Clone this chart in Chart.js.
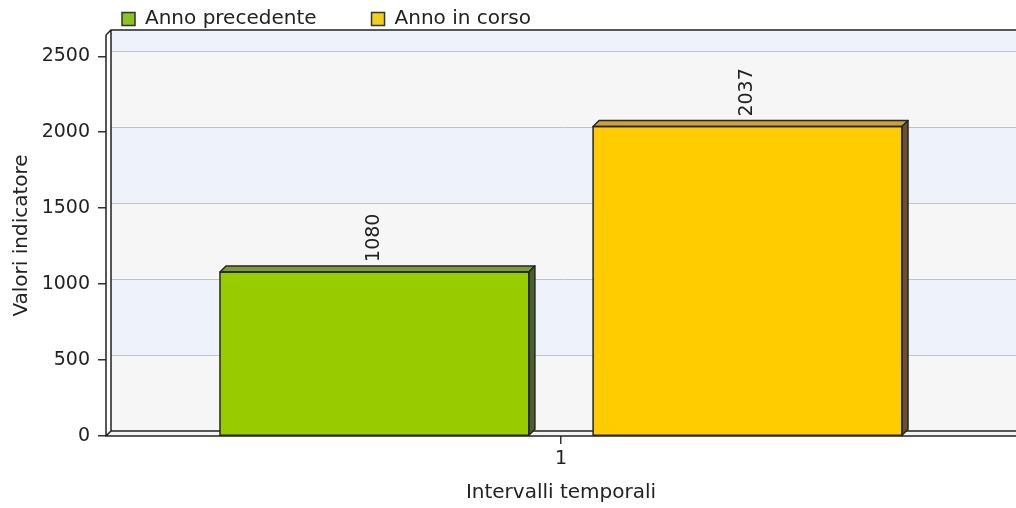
<!DOCTYPE html>
<html>
<head>
<meta charset="utf-8">
<script src="https://cdn.jsdelivr.net/npm/chart.js@4"></script>
<style>
  html, body { margin: 0; padding: 0; background: #fff; }
  #wrap { width: 1016px; height: 508px; }
</style>
</head>
<body>
<div id="wrap"><canvas id="bar-chart" width="1016" height="508"></canvas></div>
<script>
// dati del grafico
var categories = ["1"];
var seriesNames = ["Anno precedente", "Anno in corso"];
var annoPrecedente = [1080];
var annoInCorso = [2037];
var yTickValues = [0, 500, 1000, 1500, 2000, 2500];
var yMax = 2640;

var FONT = "DejaVu Sans";
var DEPTH = 5;   // profondita della parete di fondo
var BAR_DEPTH = 6;

var faceColors = ["#99cc00", "#ffcc00"];
var topColors = ["#7d9c3c", "#c9a238"];
var sideColors = ["#4e5f2e", "#6a5030"];

// parete di fondo con bande alternate e griglia spostata
var wallPlugin = {
  id: "wall",
  beforeDatasetsDraw: function (chart) {
    var ctx = chart.ctx;
    var a = chart.chartArea;
    var y = chart.scales.y;
    var d = DEPTH;
    ctx.save();
    // pavimento
    ctx.fillStyle = "#f4f4f4";
    ctx.fillRect(a.left + 1, a.bottom - d, a.right - a.left, d - 1);
    // bande
    var edges = yTickValues.concat([yMax]);
    for (var i = 0; i < edges.length - 1; i++) {
      var y0 = y.getPixelForValue(edges[i]) - d;
      var y1 = y.getPixelForValue(edges[i + 1]) - d;
      ctx.fillStyle = i % 2 === 0 ? "#f6f6f6" : "#eef2fb";
      ctx.fillRect(a.left + d, y1, a.right - a.left - d, y0 - y1);
    }
    // griglia
    ctx.strokeStyle = "#c2c2c2";
    ctx.lineWidth = 1;
    yTickValues.forEach(function (v) {
      if (v === 0) return;
      var py = Math.round(y.getPixelForValue(v) - d) + 0.5;
      ctx.beginPath();
      ctx.moveTo(a.left + d, py);
      ctx.lineTo(a.right, py);
      ctx.stroke();
    });
    // cornice della parete e assi frontali
    ctx.strokeStyle = "#222";
    ctx.lineWidth = 1.5;
    ctx.beginPath();
    ctx.moveTo(a.left + d, a.bottom - d);
    ctx.lineTo(a.left + d, a.top - d);
    ctx.lineTo(a.right, a.top - d);
    ctx.moveTo(a.left + d, a.bottom - d);
    ctx.lineTo(a.right, a.bottom - d);
    ctx.moveTo(a.left, a.top);
    ctx.lineTo(a.left + d, a.top - d);
    ctx.moveTo(a.left, a.bottom);
    ctx.lineTo(a.left + d, a.bottom - d);
    ctx.moveTo(a.left, a.top);
    ctx.lineTo(a.left, a.bottom);
    ctx.lineTo(a.right, a.bottom);
    ctx.stroke();
    ctx.restore();
  }
};

// effetto 3D delle barre + etichette dei valori
var bar3dPlugin = {
  id: "bar3d",
  afterDatasetsDraw: function (chart) {
    var ctx = chart.ctx;
    var d = BAR_DEPTH;
    ctx.save();
    chart.data.datasets.forEach(function (ds, i) {
      var meta = chart.getDatasetMeta(i);
      meta.data.forEach(function (bar, j) {
        var p = bar.getProps(["x", "y", "base", "width"], true);
        var l = p.x - p.width / 2, r = p.x + p.width / 2;
        ctx.lineWidth = 1.5;
        ctx.strokeStyle = "#262626";
        ctx.lineJoin = "round";
        // faccia superiore
        ctx.beginPath();
        ctx.moveTo(l, p.y);
        ctx.lineTo(l + d, p.y - d);
        ctx.lineTo(r + d, p.y - d);
        ctx.lineTo(r, p.y);
        ctx.closePath();
        ctx.fillStyle = topColors[i];
        ctx.fill();
        ctx.stroke();
        // faccia laterale
        ctx.beginPath();
        ctx.moveTo(r, p.y);
        ctx.lineTo(r + d, p.y - d);
        ctx.lineTo(r + d, p.base - d);
        ctx.lineTo(r, p.base);
        ctx.closePath();
        ctx.fillStyle = sideColors[i];
        ctx.fill();
        ctx.stroke();
        // contorno della faccia frontale
        ctx.strokeRect(l, p.y, p.width, p.base - p.y);
        // valore ruotato
        ctx.save();
        ctx.translate(p.x, p.y - 10);
        ctx.rotate(-Math.PI / 2);
        ctx.fillStyle = "#222";
        ctx.font = "19px '" + FONT + "'";
        ctx.textAlign = "left";
        ctx.textBaseline = "middle";
        ctx.fillText(String(ds.data[j]), 0, 0);
        ctx.restore();
      });
    });
    ctx.restore();
  }
};

// legenda in alto a sinistra
var legendPlugin = {
  id: "legendTop",
  afterDraw: function (chart) {
    var ctx = chart.ctx;
    var x = 122, cy = 19, box = 13;
    ctx.save();
    ctx.font = "20px '" + FONT + "'";
    ctx.textBaseline = "middle";
    ctx.textAlign = "left";
    chart.data.datasets.forEach(function (ds, i) {
      ctx.fillStyle = i === 0 ? "#8dc21f" : "#f2cf1a";
      ctx.fillRect(x, cy - box / 2, box, box);
      ctx.strokeStyle = "#333";
      ctx.lineWidth = 1.5;
      ctx.strokeRect(x, cy - box / 2, box, box);
      ctx.fillStyle = "#222";
      ctx.fillText(ds.label, x + 23, cy);
      x += 23 + ctx.measureText(ds.label).width + 55;
    });
    ctx.restore();
  }
};

var ctx = document.getElementById("bar-chart").getContext("2d");
var chart = new Chart(ctx, {
  type: "bar",
  data: {
    labels: categories,
    datasets: [
      {
        label: seriesNames[0],
        data: annoPrecedente,
        backgroundColor: faceColors[0],
        borderWidth: 0,
      },
      {
        label: seriesNames[1],
        data: annoInCorso,
        backgroundColor: faceColors[1],
        borderWidth: 0,
      },
    ],
  },
  options: {
    responsive: false,
    animation: false,
    categoryPercentage: 0.82,
    barPercentage: 0.828,
    layout: { padding: { top: 35, left: 0, right: 0, bottom: 0 } },
    plugins: {
      legend: { display: false },
      tooltip: { enabled: false },
    },
    scales: {
      x: {
        grid: { drawOnChartArea: false, offset: false, tickLength: 8, tickColor: "#333", lineWidth: 1.5 },
        border: { display: false },
        ticks: { color: "#222", font: { family: FONT, size: 19 }, padding: 4 },
        title: {
          display: true,
          text: "Intervalli temporali",
          color: "#222",
          font: { family: FONT, size: 20 },
          padding: { top: 4, bottom: 3 },
        },
        afterFit: function (scale) { scale.height = 72; },
      },
      y: {
        min: 0,
        max: yMax,
        afterBuildTicks: function (scale) {
          scale.ticks = yTickValues.map(function (v) { return { value: v }; });
        },
        grid: { drawOnChartArea: false, tickLength: 8, tickColor: "#333", lineWidth: 1.5 },
        border: { display: false },
        ticks: {
          color: "#222",
          font: { family: FONT, size: 19 },
          padding: 8,
          callback: function (v) { return String(v); },
        },
        title: {
          display: true,
          text: "Valori indicatore",
          color: "#222",
          font: { family: FONT, size: 20 },
          padding: { top: 10, bottom: 0 },
        },
        afterFit: function (scale) { scale.width = 106; },
      },
    },
  },
  plugins: [wallPlugin, bar3dPlugin, legendPlugin],
});
</script>
</body>
</html>
